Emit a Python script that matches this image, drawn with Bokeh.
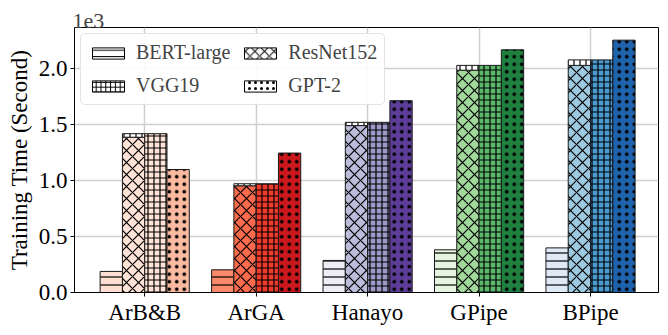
from bokeh.plotting import figure
from bokeh.models import ColumnDataSource, FixedTicker, Legend, LegendItem, Range1d
from bokeh.embed import file_html
from bokeh.resources import INLINE

groups = ["ArB&B", "ArGA", "Hanayo", "GPipe", "BPipe"]
series = ["BERT-large", "ResNet152", "VGG19", "GPT-2"]
bert = [188, 202, 286, 381, 398]
resnet = [1385, 952, 1489, 1983, 2026]
vgg = [1417, 970, 1518, 2026, 2075]
gpt2 = [1097, 1244, 1711, 2165, 2251]
y_ticks = [0, 500, 1000, 1500, 2000]
y_tick_labels = ["0.0", "0.5", "1.0", "1.5", "2.0"]

colors = {
    "BERT-large": ["#fde0d2", "#fc8a6a", "#efedf5", "#e5f5e0", "#deebf7"],
    "ResNet152": ["#fee3d6", "#fb6a4a", "#bcbddc", "#a1d99b", "#9ecae1"],
    "VGG19": ["#fee3d6", "#ef3b2c", "#9e9ac8", "#5bb86a", "#4c9bd0"],
    "GPT-2": ["#fcbba1", "#cb181d", "#5e3c99", "#1f8040", "#1f63ad"],
}
hatches = {"BERT-large": "-", "ResNet152": "x", "VGG19": "+", "GPT-2": "."}
hatch_scales = {"BERT-large": 8, "ResNet152": 12, "VGG19": 6, "GPT-2": 7.5}
values = {"BERT-large": bert, "ResNet152": resnet, "VGG19": vgg, "GPT-2": gpt2}
offsets = [-0.3, -0.1, 0.1, 0.3]
bar_w = 0.2

FONT = "Liberation Serif"

p = figure(width=660, height=327, output_backend="svg", toolbar_location=None,
           x_range=Range1d(-0.63, 4.61), y_range=Range1d(0, 2364),
           min_border_left=74, min_border_right=2, min_border_top=27, min_border_bottom=33)

p.title.text = "1e3"
p.title.text_font = FONT
p.title.text_font_size = "22px"
p.title.text_font_style = "normal"
p.title.align = "left"
p.title.offset = -2
p.title.standoff = 0

p.outline_line_color = "black"
p.outline_line_width = 1
p.background_fill_color = "white"

p.xgrid.ticker = FixedTicker(ticks=list(range(len(groups))))
p.ygrid.ticker = FixedTicker(ticks=y_ticks)
for g in (p.xgrid, p.ygrid):
    g.grid_line_color = "#cfcfcf"
    g.grid_line_width = 1.5

p.xaxis.ticker = FixedTicker(ticks=list(range(len(groups))))
p.xaxis.major_label_overrides = {i: g for i, g in enumerate(groups)}
p.yaxis.ticker = FixedTicker(ticks=y_ticks)
p.yaxis.major_label_overrides = {t: l for t, l in zip(y_ticks, y_tick_labels)}
p.yaxis.axis_label = "Training Time (Second)"
for ax in (p.xaxis, p.yaxis):
    ax.major_label_text_font = FONT
    ax.major_label_text_font_size = "23px"
    ax.major_label_text_color = "black"
    ax.axis_label_text_font = FONT
    ax.axis_label_text_font_size = "23px"
    ax.axis_label_text_font_style = "normal"
    ax.axis_label_text_color = "black"
    ax.axis_line_color = "black"
    ax.major_tick_line_color = "black"
    ax.major_tick_out = 4
    ax.major_tick_in = 0
    ax.minor_tick_line_color = None
p.xaxis.major_label_standoff = 3
p.yaxis.major_label_standoff = 3
p.yaxis.axis_label_standoff = 4

for s, off in zip(series, offsets):
    src = ColumnDataSource(dict(x=[i + off for i in range(len(groups))],
                                top=values[s], color=colors[s]))
    p.vbar(x="x", top="top", width=bar_w, source=src, fill_color="color",
           line_color="#1a1a1a", line_width=1,
           hatch_pattern=hatches[s], hatch_color="black", hatch_scale=hatch_scales[s],
           hatch_weight=1.2 if s != "GPT-2" else 2.0)
    if s == "ResNet152":
        cap = ColumnDataSource(dict(x=[i + off for i in range(len(groups))],
                                    bottom=resnet, top=vgg))
        p.vbar(x="x", bottom="bottom", top="top", width=bar_w, source=cap,
               fill_color="white", line_color="#1a1a1a", line_width=1,
               hatch_pattern="|", hatch_color="black", hatch_scale=6, hatch_weight=1.2)

# legend proxies (placed outside the visible x range)
proxies = {}
for s in series:
    r = p.vbar(x=[-10], top=[1], width=bar_w, fill_color="white", line_color="black",
               line_width=1, hatch_pattern=hatches[s], hatch_color="black",
               hatch_scale=hatch_scales[s] * 0.8, hatch_weight=1.0 if s != "GPT-2" else 1.6)
    proxies[s] = r

legend_order = ["BERT-large", "VGG19", "ResNet152", "GPT-2"]
items = [LegendItem(label=s, renderers=[proxies[s]]) for s in legend_order]

legend = Legend(items=items, ncols=2, location="top_left",
                label_text_font=FONT, label_text_font_size="20px",
                glyph_width=40, glyph_height=14, label_standoff=8,
                spacing=10, padding=7, margin=6,
                border_line_color="#c8c8c8", border_line_width=1.5,
                border_radius=5,
                background_fill_alpha=0.9)
p.add_layout(legend, "center")

open("out.html", "w").write(file_html(p, INLINE))
